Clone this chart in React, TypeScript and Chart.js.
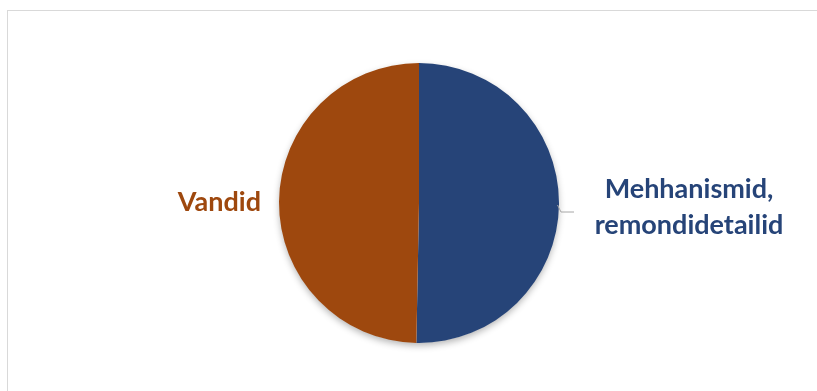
import React, { useEffect, useRef } from "react";
import { Chart, registerables } from "chart.js";

Chart.register(...registerables);

const categories: string[] = ["Mehhanismid, remondidetailid", "Vandid"];
const labelLines: string[][] = [["Mehhanismid,", "remondidetailid"], ["Vandid"]];
const values: number[] = [50.3, 49.7];
const colors: string[] = ["#264478", "#9E480E"];

const FONT = "bold 27px Lato, 'Open Sans', sans-serif";

const shadowPlugin = {
  id: "pieShadow",
  beforeDatasetsDraw(chart: any) {
    const meta = chart.getDatasetMeta(0);
    const arc = meta.data[0];
    if (!arc) return;
    const { x, y, outerRadius } = arc as any;
    const ctx = chart.ctx;
    ctx.save();
    ctx.shadowColor = "rgba(0,0,0,0.3)";
    ctx.shadowBlur = 7;
    ctx.shadowOffsetY = 3;
    ctx.beginPath();
    ctx.arc(x, y, outerRadius - 0.5, 0, Math.PI * 2);
    ctx.fillStyle = "#ffffff";
    ctx.fill();
    ctx.restore();
  },
};

const labelPlugin = {
  id: "pieLabels",
  afterDatasetsDraw(chart: any) {
    const meta = chart.getDatasetMeta(0);
    const a0 = meta.data[0] as any;
    if (!a0) return;
    const cx = a0.x;
    const cy = a0.y;
    const r = a0.outerRadius;
    const ctx = chart.ctx;
    ctx.save();
    ctx.font = FONT;
    ctx.textBaseline = "alphabetic";
    ctx.strokeStyle = "#A6A6A6";
    ctx.lineWidth = 1;
    ctx.beginPath();
    ctx.moveTo(cx + r - 1.5, cy + 2);
    ctx.lineTo(cx + r + 2, cy + 9);
    ctx.lineTo(cx + r + 15, cy + 9);
    ctx.stroke();
    ctx.fillStyle = colors[0];
    ctx.textAlign = "center";
    const lx = cx + r + 130;
    labelLines[0].forEach((t, i) => {
      ctx.fillText(t, lx, cy - 5 + i * 36);
    });
    ctx.fillStyle = colors[1];
    ctx.textAlign = "right";
    labelLines[1].forEach((t, i) => {
      ctx.fillText(t, cx - r - 18, cy + 8 + i * 36);
    });
    ctx.restore();
  },
};

export default function App() {
  const ref = useRef<HTMLCanvasElement | null>(null);
  useEffect(() => {
    document.body.style.margin = "0";
    if (!ref.current) return;
    const chart = new Chart(ref.current, {
      type: "pie",
      data: {
        labels: categories,
        datasets: [
          {
            data: values,
            backgroundColor: colors,
            borderWidth: 0,
          },
        ],
      },
      options: {
        animation: false,
        responsive: false,
        layout: { padding: { left: 279, right: 258, top: 63, bottom: 48 } },
        plugins: {
          legend: { display: false },
          tooltip: { enabled: false },
        },
      },
      plugins: [shadowPlugin, labelPlugin],
    });
    return () => chart.destroy();
  }, []);
  return (
    <div style={{ position: "relative", width: 817, height: 391, background: "#fff", overflow: "hidden" }}>
      <div
        style={{
          position: "absolute",
          left: 7,
          top: 10,
          width: 900,
          height: 500,
          border: "1px solid #D9D9D9",
          boxSizing: "border-box",
        }}
      />
      <canvas ref={ref} width={817} height={391} style={{ position: "absolute", left: 0, top: 0 }} />
    </div>
  );
}
